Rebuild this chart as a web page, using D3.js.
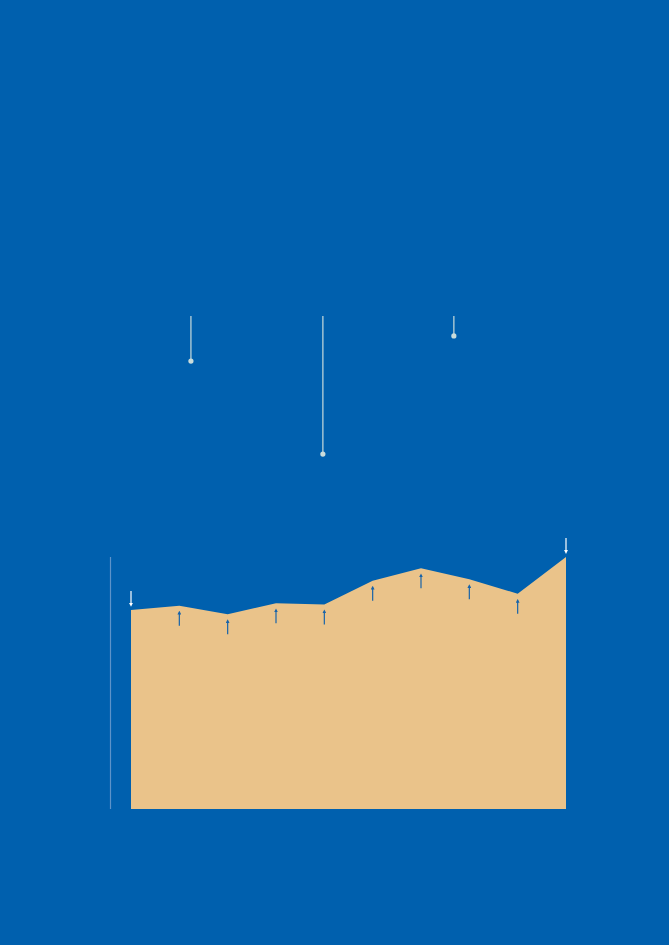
<!DOCTYPE html>
<html>
<head>
<meta charset="utf-8">
<script src="https://cdn.jsdelivr.net/npm/d3@7"></script>
<style>
  html, body { margin: 0; padding: 0; background: #0060ae; }
  svg { display: block; }
</style>
</head>
<body>
<div id="chart"></div>
<script>
// series values (share of the axis height, 0-100)
const periods = [0, 1, 2, 3, 4, 5, 6, 7, 8, 9];
const values = [79.0, 80.7, 77.3, 81.6, 81.2, 90.6, 95.5, 91.2, 85.4, 100];
// which way the small marker arrow points at each period
const arrowDir = ["down", "up", "up", "up", "up", "up", "up", "up", "up", "down"];

// callout leaders hanging from the top (position on the period axis, drop length)
const calloutAt = [1.24, 3.97, 6.68];
const calloutDrop = [17.9, 54.8, 7.9];

const width = 669, height = 945;

const svg = d3.select("#chart").append("svg")
    .attr("width", width)
    .attr("height", height)
    .attr("viewBox", [0, 0, width, height]);

svg.append("rect")
    .attr("width", width)
    .attr("height", height)
    .attr("fill", "#0060ae");

const x = d3.scaleLinear()
    .domain([0, 9])
    .range([131, 566]);

const y = d3.scaleLinear()
    .domain([0, 100])
    .range([809, 557]);

const defs = svg.append("defs");
function marker(id, color) {
    defs.append("marker")
        .attr("id", id)
        .attr("viewBox", "0 0 6 6")
        .attr("refX", 3)
        .attr("refY", 3)
        .attr("markerWidth", 3.2)
        .attr("markerHeight", 3.2)
        .attr("orient", "auto")
        .append("path")
        .attr("d", "M0,0L6,3L0,6Z")
        .attr("fill", color);
}
marker("head-white", "#ffffff");
marker("head-blue", "#1763a9");

// left axis rule
svg.append("line")
    .attr("x1", 110.5).attr("x2", 110.5)
    .attr("y1", y(100)).attr("y2", y(0))
    .attr("stroke", "#5d93c9")
    .attr("stroke-width", 1.2);

const area = d3.area()
    .x((d, i) => x(periods[i]))
    .y0(y(0))
    .y1(d => d);

svg.append("path")
    .datum(values)
    .attr("d", d3.area()
        .x((d, i) => x(periods[i]))
        .y0(y(0))
        .y1(d => y(d)))
    .attr("fill", "#eac38a");

// arrows: white above the first and last point, blue inside the area elsewhere
svg.append("g")
    .selectAll("line")
    .data(values)
    .join("line")
    .attr("x1", (d, i) => x(periods[i]))
    .attr("x2", (d, i) => x(periods[i]))
    .attr("y1", (d, i) => arrowDir[i] === "down" ? y(d) - 19 : y(d) + 20)
    .attr("y2", (d, i) => arrowDir[i] === "down" ? y(d) - 5 : y(d) + 7)
    .attr("stroke", (d, i) => arrowDir[i] === "down" ? "#ffffff" : "#1763a9")
    .attr("stroke-width", 1.2)
    .attr("marker-end", (d, i) => arrowDir[i] === "down" ? "url(#head-white)" : "url(#head-blue)");

// callout leaders
const dropPx = v => y(0) - y(v);
const callouts = svg.append("g")
    .selectAll("g")
    .data(calloutAt)
    .join("g");

callouts.append("line")
    .attr("x1", d => x(d)).attr("x2", d => x(d))
    .attr("y1", 316)
    .attr("y2", (d, i) => 316 + dropPx(calloutDrop[i]))
    .attr("stroke", "#c9dcdb")
    .attr("stroke-width", 1.2);

callouts.append("circle")
    .attr("cx", d => x(d))
    .attr("cy", (d, i) => 316 + dropPx(calloutDrop[i]))
    .attr("r", 2.6)
    .attr("fill", "#c9dcdb");
</script>
</body>
</html>
